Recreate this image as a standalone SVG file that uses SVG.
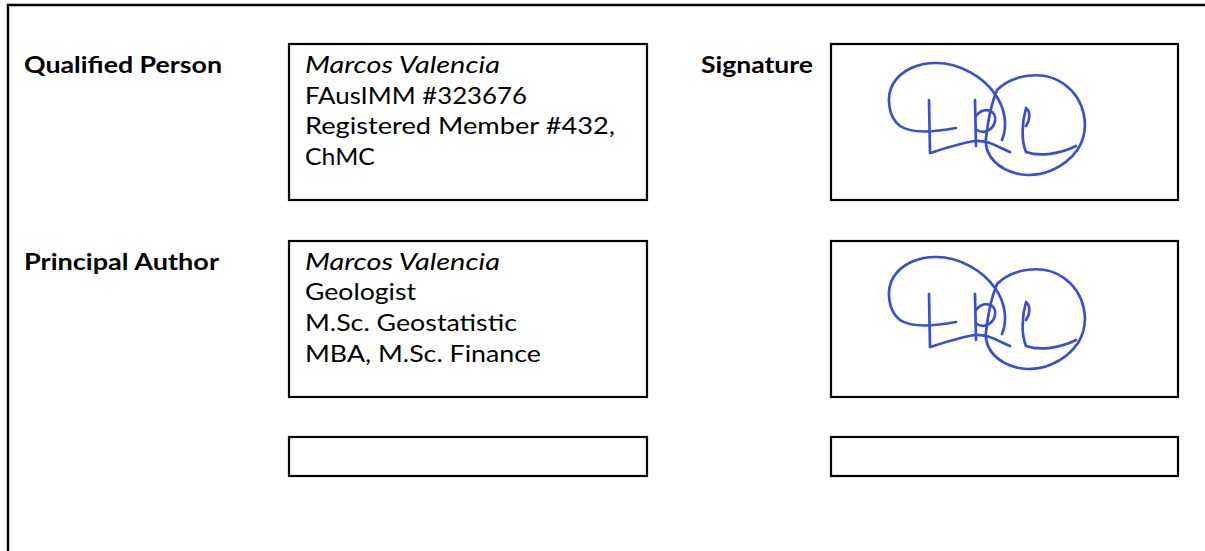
<svg xmlns="http://www.w3.org/2000/svg" xmlns:xlink="http://www.w3.org/1999/xlink" width="1205" height="551" viewBox="0 0 1205 551">
<style>
.box{fill:#fff;stroke:#000;stroke-width:2.2}
.lbl{font-family:Lato,"Open Sans","Liberation Sans",sans-serif;font-weight:bold;font-size:23px;fill:#000}
.t{font-family:Lato,"Open Sans","Liberation Sans",sans-serif;font-size:23px;fill:#000}
.it{font-style:italic}
.sig{fill:none;stroke:#3a4fd0;stroke-width:2.7;stroke-linecap:round;stroke-linejoin:round}
</style>
<defs>
<g id="sigdraw" class="sig">
<path d="M956 128 C935 132 912 134 900 126 C888 117 886 96 893 84 C901 70 918 63 936 63 C960 63 983 77 995 94 C1005 108 1008 126 1002 140"/>
<path d="M997 90 C1012 75 1043 69 1064 84 C1085 99 1091 128 1078 149 C1064 169 1040 178 1019 174 C999 170 984 156 986 138 C988 120 991 104 997 90"/>
<path d="M929 100 L930 153 C946 148 961 143 975 141 C988 140 998 147 1010 152"/>
<path d="M975 100 L976 146"/>
<path d="M976 116 C984 106 997 110 995 121 C993 131 983 134 977 130"/>
<path d="M1026 108 C1031 112 1030 120 1026 126 M1026 108 C1022 122 1021 140 1026 152 C1040 157 1060 154 1076 146"/>
</g>
</defs>
<g id="frame">
<path d="M8 551 L8 5 L1205 5" fill="none" stroke="#000" stroke-width="2.4"/>
</g>
<g id="qp-label"><text class="lbl" x="24" y="73" textLength="198" lengthAdjust="spacingAndGlyphs">Qualified Person</text></g>
<g id="qp-box">
<rect class="box" x="289" y="44" width="358" height="156"/>
<text class="t it" x="305" y="73" textLength="195" lengthAdjust="spacingAndGlyphs">Marcos Valencia</text>
<text class="t" x="305" y="104" textLength="222" lengthAdjust="spacingAndGlyphs">FAusIMM #323676</text>
<text class="t" x="305" y="134" textLength="310" lengthAdjust="spacingAndGlyphs">Registered Member #432,</text>
<text class="t" x="305" y="165" textLength="70" lengthAdjust="spacingAndGlyphs">ChMC</text>
</g>
<g id="sig-label"><text class="lbl" x="701" y="73" textLength="112" lengthAdjust="spacingAndGlyphs">Signature</text></g>
<g id="sig-box-1">
<rect class="box" x="831" y="44" width="347" height="156"/>
<use xlink:href="#sigdraw"/>
</g>
<g id="pa-label"><text class="lbl" x="24" y="270" textLength="195" lengthAdjust="spacingAndGlyphs">Principal Author</text></g>
<g id="pa-box">
<rect class="box" x="289" y="241" width="358" height="156"/>
<text class="t it" x="305" y="270" textLength="195" lengthAdjust="spacingAndGlyphs">Marcos Valencia</text>
<text class="t" x="305" y="300" textLength="111" lengthAdjust="spacingAndGlyphs">Geologist</text>
<text class="t" x="305" y="331" textLength="212" lengthAdjust="spacingAndGlyphs">M.Sc. Geostatistic</text>
<text class="t" x="305" y="362" textLength="236" lengthAdjust="spacingAndGlyphs">MBA, M.Sc. Finance</text>
</g>
<g id="sig-box-2">
<rect class="box" x="831" y="241" width="347" height="156"/>
<use xlink:href="#sigdraw" transform="translate(0 194)"/>
</g>
<g id="empty-box-1"><rect class="box" x="289" y="437" width="358" height="39"/></g>
<g id="empty-box-2"><rect class="box" x="831" y="437" width="347" height="39"/></g>
<g id="connectors"/>
</svg>
